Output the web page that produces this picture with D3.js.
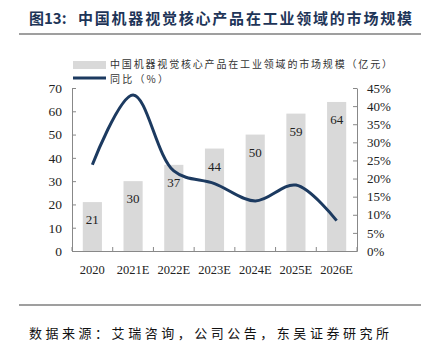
<!DOCTYPE html>
<html>
<head>
<meta charset="utf-8">
<script src="https://cdn.jsdelivr.net/npm/d3@7"></script>
<style>
  body { margin: 0; background: #fff; }
  svg { display: block; }
  .tick text { font-family: "Liberation Serif", "Times New Roman", serif; fill: #222; }
</style>
</head>
<body>
<svg id="chart"></svg>
<script>
const years = ["2020", "2021E", "2022E", "2023E", "2024E", "2025E", "2026E"];
const marketSize = [21, 30, 37, 44, 50, 59, 64];
const growth = [23.8, 43.1, 22.1, 18.6, 13.8, 18.2, 8.4];
const leftTicks = [0, 10, 20, 30, 40, 50, 60, 70];
const rightTicks = [0, 5, 10, 15, 20, 25, 30, 35, 40, 45];

const width = 425;
const height = 350;
const margin = {top: 88, right: 68, bottom: 99, left: 72};

const svg = d3.select("#chart")
    .attr("width", width)
    .attr("height", height);

// title
svg.append("text")
    .attr("x", 29)
    .attr("y", 24)
    .attr("font-family", "'Noto Sans CJK SC', sans-serif")
    .attr("font-weight", "bold")
    .attr("font-size", 15)
    .attr("fill", "#1e3558")
    .text("图13:");

svg.append("text")
    .attr("x", 78)
    .attr("y", 24)
    .attr("font-family", "'Noto Sans CJK SC', sans-serif")
    .attr("font-weight", "bold")
    .attr("font-size", 15)
    .attr("fill", "#1e3558")
    .attr("textLength", 334)
    .attr("lengthAdjust", "spacing")
    .text("中国机器视觉核心产品在工业领域的市场规模");

svg.append("line")
    .attr("x1", 19).attr("x2", 421)
    .attr("y1", 34).attr("y2", 34)
    .attr("stroke", "#7f7f7f")
    .attr("stroke-width", 1.5);

svg.append("line")
    .attr("x1", 19).attr("x2", 421)
    .attr("y1", 305).attr("y2", 305)
    .attr("stroke", "#7f7f7f")
    .attr("stroke-width", 1.5);

svg.append("text")
    .attr("x", 29)
    .attr("y", 338)
    .attr("font-family", "'Noto Sans CJK SC', sans-serif")
    .attr("font-size", 13)
    .attr("fill", "#111")
    .attr("textLength", 360)
    .attr("lengthAdjust", "spacing")
    .text("数据来源：艾瑞咨询，公司公告，东吴证券研究所");

const x = d3.scaleBand()
    .domain(years)
    .range([margin.left, width - margin.right])
    .paddingInner(0.53)
    .paddingOuter(0.265);

const y = d3.scaleLinear()
    .domain([0, 70])
    .range([height - margin.bottom, margin.top]);

const y2 = d3.scaleLinear()
    .domain([0, 45])
    .range([height - margin.bottom, margin.top]);

// bars
svg.append("g")
  .selectAll("rect")
  .data(marketSize)
  .enter().append("rect")
    .attr("x", (d, i) => x(years[i]))
    .attr("y", d => y(d))
    .attr("width", x.bandwidth())
    .attr("height", d => y(0) - y(d))
    .attr("fill", "#d9d9d9");

svg.append("g")
  .selectAll("text")
  .data(marketSize)
  .enter().append("text")
    .attr("x", (d, i) => x(years[i]) + x.bandwidth() / 2)
    .attr("y", d => y(d) + 22)
    .attr("text-anchor", "middle")
    .attr("font-family", "'Liberation Serif', serif")
    .attr("font-size", 13)
    .attr("fill", "#222")
    .text(d => d);

// growth line
const line = d3.line()
    .x((d, i) => x(years[i]) + x.bandwidth() / 2)
    .y(d => y2(d))
    .curve(d3.curveCatmullRom.alpha(0.5));

svg.append("path")
    .datum(growth)
    .attr("d", line)
    .attr("fill", "none")
    .attr("stroke", "#1c3a60")
    .attr("stroke-width", 3);

// axes
const axisColor = "#888";

const leftAxis = svg.append("g")
    .attr("transform", `translate(${margin.left},0)`)
    .call(d3.axisLeft(y).tickValues(leftTicks).tickSizeInner(-4).tickSizeOuter(0).tickPadding(10));

const rightAxis = svg.append("g")
    .attr("transform", `translate(${width - margin.right},0)`)
    .call(d3.axisRight(y2).tickValues(rightTicks).tickFormat(d => d + "%").tickSizeInner(-4).tickSizeOuter(0).tickPadding(10));

const bottomAxis = svg.append("g")
    .attr("transform", `translate(0,${height - margin.bottom})`)
    .call(d3.axisBottom(x).tickSize(0).tickPadding(14));

// category boundary ticks on bottom axis
const step = x.step();
svg.append("g")
  .selectAll("line")
  .data(d3.range(years.length + 1))
  .enter().append("line")
    .attr("x1", i => margin.left + i * step)
    .attr("x2", i => margin.left + i * step)
    .attr("y1", height - margin.bottom)
    .attr("y2", height - margin.bottom - 4)
    .attr("stroke", axisColor);

[leftAxis, rightAxis, bottomAxis].forEach(g => {
    g.selectAll("path.domain").attr("stroke", axisColor);
    g.selectAll(".tick line").attr("stroke", axisColor);
});
leftAxis.selectAll(".tick text").attr("font-size", 13.5);
rightAxis.selectAll(".tick text").attr("font-size", 13);
bottomAxis.selectAll(".tick text").attr("font-size", 12.5);

// legend
const legend = svg.append("g")
    .attr("font-family", "'Noto Sans CJK SC', sans-serif")
    .attr("font-size", 10)
    .attr("fill", "#333");

legend.append("rect")
    .attr("x", 73).attr("y", 61)
    .attr("width", 33).attr("height", 8)
    .attr("fill", "#d9d9d9");

legend.append("text")
    .attr("x", 110).attr("y", 68)
    .attr("textLength", 282)
    .attr("lengthAdjust", "spacing")
    .text("中国机器视觉核心产品在工业领域的市场规模（亿元）");

legend.append("line")
    .attr("x1", 73).attr("x2", 106)
    .attr("y1", 78).attr("y2", 78)
    .attr("stroke", "#1c3a60")
    .attr("stroke-width", 3);

legend.append("text")
    .attr("x", 110).attr("y", 83)
    .attr("textLength", 58)
    .attr("lengthAdjust", "spacing")
    .text("同比（%）");
</script>
</body>
</html>
